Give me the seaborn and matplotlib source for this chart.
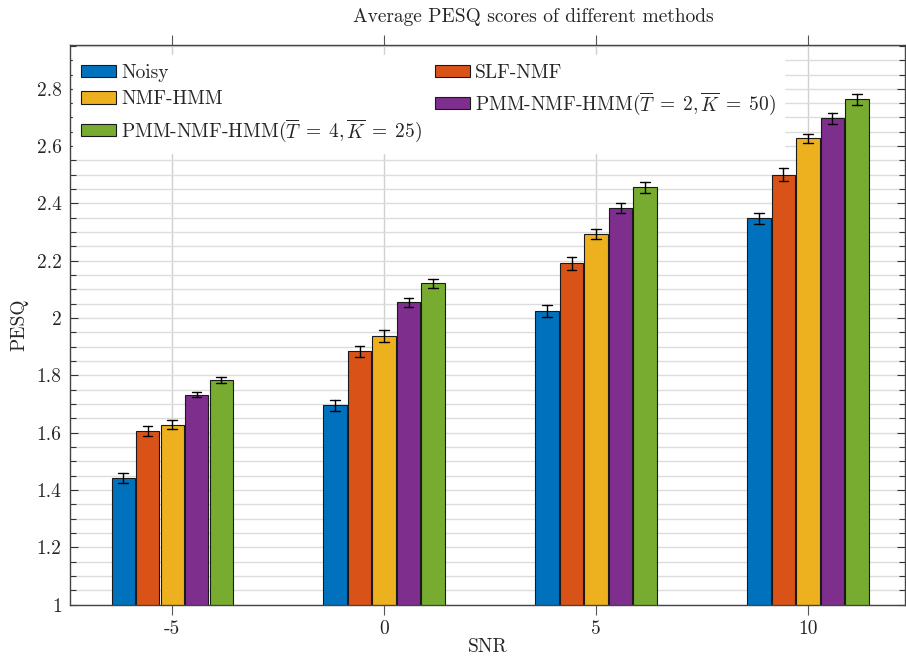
import numpy as np
import pandas as pd
import matplotlib
matplotlib.use("Agg")
import matplotlib.pyplot as plt
from matplotlib.ticker import MultipleLocator
import seaborn as sns

# ---- data ----
snr = ['-5', '0', '5', '10']
methods = ['Noisy', 'SLF-NMF', 'NMF-HMM',
           r'PMM-NMF-HMM($\overline{T}\;=\;2,\overline{K}\;=\;50$)',
           r'PMM-NMF-HMM($\overline{T}\;=\;4,\overline{K}\;=\;25$)']
noisy = [1.442, 1.696, 2.024, 2.348]
slf_nmf = [1.606, 1.884, 2.191, 2.501]
nmf_hmm = [1.628, 1.937, 2.293, 2.627]
pmm_t2 = [1.732, 2.055, 2.385, 2.697]
pmm_t4 = [1.783, 2.121, 2.456, 2.763]
noisy_err = [0.016, 0.020, 0.020, 0.020]
slf_nmf_err = [0.017, 0.020, 0.023, 0.022]
nmf_hmm_err = [0.016, 0.020, 0.017, 0.017]
pmm_t2_err = [0.009, 0.015, 0.017, 0.019]
pmm_t4_err = [0.011, 0.017, 0.020, 0.019]
yticks = [1.0, 1.2, 1.4, 1.6, 1.8, 2.0, 2.2, 2.4, 2.6, 2.8]
ytick_labels = ['1', '1.2', '1.4', '1.6', '1.8', '2', '2.2', '2.4', '2.6', '2.8']
colors = ['#0072BD', '#D95319', '#EDB120', '#7E2F8E', '#77AC30']

series = [noisy, slf_nmf, nmf_hmm, pmm_t2, pmm_t4]
errs = [noisy_err, slf_nmf_err, nmf_hmm_err, pmm_t2_err, pmm_t4_err]
rows = []
for m, vals, es in zip(methods, series, errs):
    for s, v, e in zip(snr, vals, es):
        rows.append((s, m, v - e))
        rows.append((s, m, v + e))
df = pd.DataFrame(rows, columns=['SNR', 'Method', 'PESQ'])

# ---- style ----
sns.set_style('white')
plt.rcParams['font.family'] = ['cmr10', 'DejaVu Serif']
plt.rcParams['mathtext.fontset'] = 'cm'
plt.rcParams['axes.unicode_minus'] = False
plt.rcParams['axes.formatter.use_mathtext'] = True
FS = 14.0

fig = plt.figure(figsize=(9.06, 6.56), dpi=100)
ax = fig.add_axes([70 / 906, 1 - 604.7 / 656, 835 / 906, 560 / 656])

sns.barplot(data=df, x='SNR', y='PESQ', hue='Method', order=snr,
            hue_order=methods, palette=colors, estimator='mean',
            errorbar=lambda x: (x.min(), x.max()), capsize=0.22,
            err_kws={'color': 'black', 'linewidth': 1.0},
            width=0.578, gap=0.05, edgecolor='#1a1a1a', linewidth=0.8,
            saturation=1, ax=ax)

ax.set_yticks(yticks)
ax.set_yticklabels(ytick_labels)
ax.yaxis.set_minor_locator(MultipleLocator(0.05))
ax.set_ylim(1, 2.954)
ax.set_xlim(-0.482, 3.458)

ax.set_axisbelow(True)
ax.grid(axis='y', which='both', color='#dcdcdc', linewidth=1.0)
ax.grid(axis='x', which='major', color='#d0d0d0', linewidth=1.0)

for sp in ax.spines.values():
    sp.set_visible(True)
    sp.set_color('#444444')
    sp.set_linewidth(1.0)

ax.tick_params(axis='y', which='major', direction='in', left=True, right=True,
               length=6, width=0.8, color='#333333', labelsize=FS, pad=6)
ax.tick_params(axis='y', which='minor', direction='in', left=True, right=True,
               length=4, width=0.8, color='#333333')
ax.tick_params(axis='x', which='major', direction='out', top=True, bottom=True,
               length=7, width=0.8, color='#555555', labelsize=FS, pad=4)

ax.set_xlabel('SNR', fontsize=FS, labelpad=0)
ax.set_ylabel('PESQ', fontsize=FS, labelpad=6)
fig.text(533 / 906, 1 - 17 / 656, 'Average PESQ scores of different methods',
         ha='center', va='center', fontsize=FS)

# legend (row-wise order in 2 columns)
handles, labels = ax.get_legend_handles_labels()
order = [0, 2, 4, 1, 3]
ax.legend([handles[i] for i in order], [labels[i] for i in order],
          ncol=2, loc='upper left', bbox_to_anchor=(0.003, 0.982),
          fontsize=FS, frameon=True, facecolor='white', edgecolor='white',
          framealpha=1, fancybox=False, handlelength=1.8, handleheight=0.6,
          handletextpad=0.25, columnspacing=0.65, labelspacing=0.45,
          borderpad=0.45, borderaxespad=0.0)

fig.savefig('out.png', dpi=100)
